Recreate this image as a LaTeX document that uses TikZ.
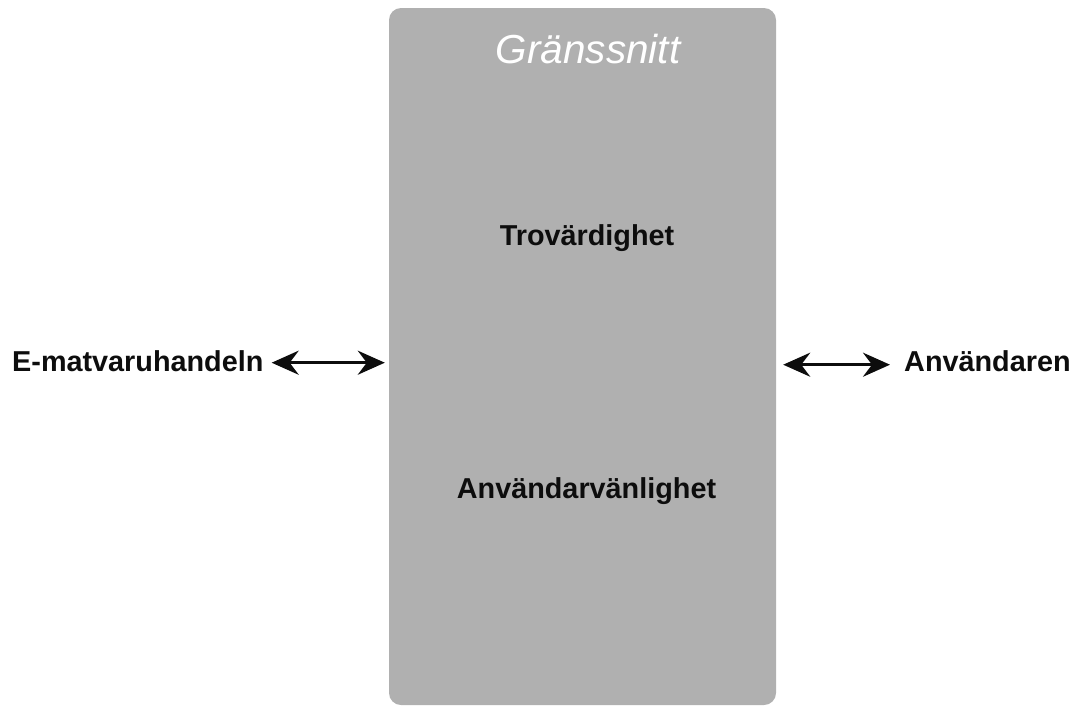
\documentclass[tikz,border=0pt]{standalone}
\usepackage{fontspec}
\setmainfont{Liberation Sans}
\usetikzlibrary{arrows.meta}
\definecolor{boxgray}{HTML}{B0B0B0}
\definecolor{txt}{HTML}{0D0D0D}
\tikzset{
  panel/.style={fill=boxgray, draw=none, rounded corners=12pt, minimum width=387pt, minimum height=697pt, inner sep=0pt},
  lbl/.style={inner sep=0pt, text=txt, font=\fontsize{28.8}{34}\selectfont\bfseries},
  ttl/.style={inner sep=0pt, text=white, font=\fontsize{40.5}{48}\selectfont\itshape},
  arr/.style={line width=3.2pt, txt, {Stealth[length=27pt,width=24pt,inset=9pt]}-{Stealth[length=27pt,width=24pt,inset=9pt]}}
}
\begin{document}
\begin{tikzpicture}[x=1pt,y=-1pt]
\useasboundingbox (0,0) rectangle (1076,707);
\node[panel] (G) at (582.5,356.5) {};
\node[ttl, anchor=base] (T) at (588,63) {Gränssnitt};
\node[lbl, anchor=base] (A) at (587,245) {Trovärdighet};
\node[lbl, anchor=base] (B) at (586.5,498) {Användarvänlighet};
\node[lbl, anchor=base west] (L) at (12,371) {E-matvaruhandeln};
\node[lbl, anchor=base west] (R) at (904,371) {Användaren};
\draw[arr] ([xshift=8pt,yshift=-2pt]L.east) -- ([xshift=-4pt,yshift=-2pt]L.east -| G.west);
\draw[arr] ([xshift=7pt,yshift=-4pt]R.west -| G.east) -- ([xshift=-14pt,yshift=-4pt]R.west);
\end{tikzpicture}
\end{document}
